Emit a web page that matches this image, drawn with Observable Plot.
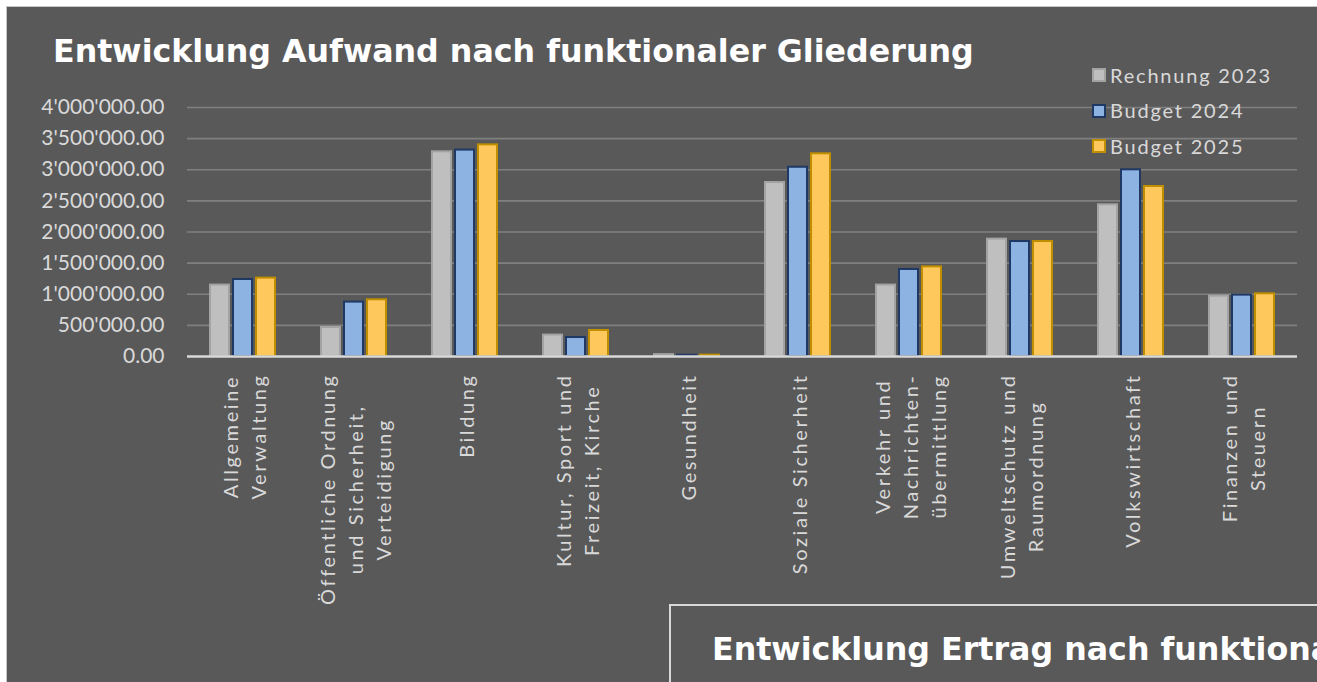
<!DOCTYPE html>
<html>
<head>
<meta charset="utf-8">
<script src="https://cdn.jsdelivr.net/npm/d3@7"></script>
<script src="https://cdn.jsdelivr.net/npm/@observablehq/plot@0.6"></script>
<style>
  html, body { margin: 0; padding: 0; width: 1317px; height: 682px; overflow: hidden; background: #ffffff; }
  #bg { position: absolute; left: 6px; top: 6px; width: 1400px; height: 800px; background: #595959; border: 1px solid #c6c6c6; }
  #title { position: absolute; left: 53px; top: 35px; font: 700 31.7px/32px "DejaVu Sans", sans-serif; color: #ffffff; white-space: nowrap; }
  #box2 { position: absolute; left: 669px; top: 604px; width: 800px; height: 200px; background: #595959; border-top: 2px solid #d9d9d9; border-left: 2px solid #d9d9d9; }
  #title2 { position: absolute; left: 712px; top: 633px; font: 700 31.7px/32px "DejaVu Sans", sans-serif; color: #ffffff; white-space: nowrap; }
  #chart { position: absolute; left: 0; top: 0; }
  .leg-sw { position: absolute; width: 14px; height: 14px; box-sizing: border-box; border: 2px solid; }
  .leg-tx { position: absolute; font: 400 20px/20px Lato, sans-serif; color: #d9d9d9; white-space: nowrap; letter-spacing: 1.8px; }
  g[aria-label="text"] text { letter-spacing: 2.6px; }
</style>
</head>
<body>
<div id="bg"></div>
<div id="chart"></div>
<div id="title">Entwicklung Aufwand nach funktionaler Gliederung</div>
<div id="legend"></div>
<div id="box2"></div>
<div id="title2">Entwicklung Ertrag nach funktionaler Gliederung</div>
<script>
const categories = [
  "Allgemeine\nVerwaltung",
  "Öffentliche Ordnung\nund Sicherheit,\nVerteidigung",
  "Bildung",
  "Kultur, Sport und\nFreizeit, Kirche",
  "Gesundheit",
  "Soziale Sicherheit",
  "Verkehr und\nNachrichten-\nübermittlung",
  "Umweltschutz und\nRaumordnung",
  "Volkswirtschaft",
  "Finanzen und\nSteuern"
];
const series = ["Rechnung 2023", "Budget 2024", "Budget 2025"];
const rechnung2023 = [1147000, 466000, 3288000, 344000, 30000, 2795000, 1147000, 1886000, 2437000, 970000];
const budget2024   = [1237000, 874000, 3316000, 305000, 20000, 3040000, 1398000, 1847000, 2999000, 986000];
const budget2025   = [1259000, 911000, 3400000, 418000, 22000, 3256000, 1440000, 1847000, 2731000, 1007000];
const yTicks = [0, 500000, 1000000, 1500000, 2000000, 2500000, 3000000, 3500000, 4000000];

const fills   = ["#bfbfbf", "#8db3e2", "#ffc85c"];
const strokes = ["#a3a3a3", "#1f3864", "#bf8f00"];

const seriesValues = [rechnung2023, budget2024, budget2025];
const table = categories.flatMap((c, i) => series.map((s, j) => ({category: c, series: s, value: seriesValues[j][i]})));

const fmt = v => d3.format(",.2f")(v).replace(/,/g, "'");

const plot = Plot.plot({
  width: 1317,
  height: 682,
  marginLeft: 183,
  marginRight: 16,
  marginTop: 107,
  marginBottom: 326,
  style: {background: "transparent", fontFamily: "Lato, sans-serif", overflow: "visible"},
  fx: {domain: categories, padding: 0, axis: null},
  x: {domain: series, paddingInner: 0.17, paddingOuter: 0.9, axis: null},
  y: {domain: [0, 4000000], axis: null},
  marks: [
    Plot.ruleY(yTicks.filter(d => d > 0), {stroke: "#808080", strokeWidth: 1.6}),
    ...series.map((s, j) => Plot.barY(table.filter(d => d.series === s), {
      fx: "category", x: "series", y: "value",
      fill: fills[j], stroke: strokes[j], strokeWidth: 2
    })),
    Plot.ruleY([0], {stroke: "#d9d9d9", strokeWidth: 2.5}),
    Plot.axisY({ticks: yTicks, tickFormat: fmt, tickSize: 0, tickPadding: 23, fontSize: 21, color: "#d9d9d9", label: null}),
    Plot.text(categories, {
      fx: d => d, text: d => d, frameAnchor: "bottom", dy: 17,
      rotate: -90, textAnchor: "end", lineAnchor: "middle", lineHeight: 1.4,
      fontSize: 20, fill: "#d9d9d9"
    })
  ]
});
document.getElementById("chart").appendChild(plot);

// center-align the lines of each rotated category label (block stays top aligned)
for (const t of plot.querySelectorAll('g[aria-label="text"] text')) {
  const spans = t.querySelectorAll("tspan");
  const lines = spans.length ? Array.from(spans) : [t];
  const max = Math.max(...lines.map(s => s.getComputedTextLength()));
  t.setAttribute("text-anchor", "middle");
  lines.forEach(s => s.setAttribute("x", -max / 2));
}

// legend
const legend = document.getElementById("legend");
series.forEach((s, j) => {
  const cy = 75.3 + 35.5 * j;
  const sw = document.createElement("div");
  sw.className = "leg-sw";
  sw.style.left = "1092px";
  sw.style.top = (cy - 7) + "px";
  sw.style.background = fills[j];
  sw.style.borderColor = strokes[j];
  legend.appendChild(sw);
  const tx = document.createElement("div");
  tx.className = "leg-tx";
  tx.style.left = "1110px";
  tx.style.top = (cy - 10.5) + "px";
  tx.textContent = s;
  legend.appendChild(tx);
});
</script>
</body>
</html>
